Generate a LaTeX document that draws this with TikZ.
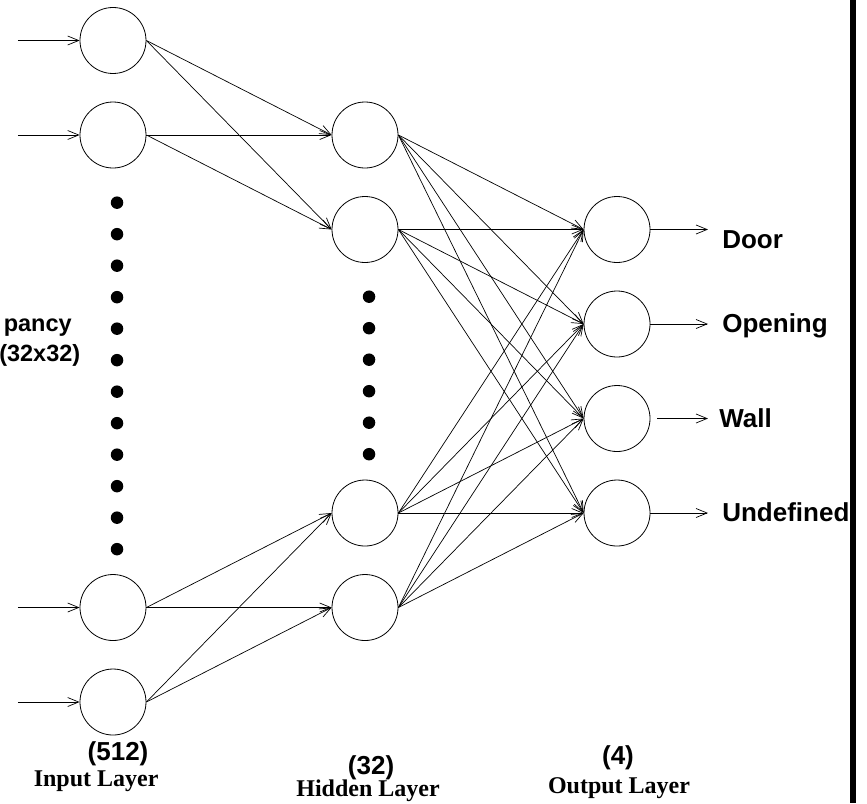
\documentclass[tikz,border=0pt]{standalone}
\usepackage{fontspec}
\setmainfont{Liberation Serif}
\setsansfont{Liberation Sans}
\usetikzlibrary{arrows.meta}
\tikzset{
  >={Straight Barb[length=11pt,width=9pt]},
  neuron/.style={draw,circle,minimum size=66pt,inner sep=0pt,line width=0.8pt},
  syn/.style={->,line width=0.7pt},
  bigdot/.style={fill,circle,minimum size=12.5pt,inner sep=0pt},
  lbl/.style={inner sep=0pt,font=\sffamily\bfseries\fontsize{26}{30}\selectfont},
  lbls/.style={lbl,font=\sffamily\bfseries\fontsize{23.5}{28}\selectfont},
  lyr/.style={inner sep=0pt,font=\bfseries\fontsize{24}{28}\selectfont},
}

\begin{document}
\begin{tikzpicture}[x=252pt,y=-94.5pt]
  \useasboundingbox (-0.4484,-0.4286) rectangle (2.992,8.0688);
  % ---- neurons ----
  \node[neuron] (i1) at (0,0) {};
  \node[neuron] (i2) at (0,1) {};
  \node[neuron] (i3) at (0,6) {};
  \node[neuron] (i4) at (0,7) {};
  \node[neuron] (h1) at (1,1) {};
  \node[neuron] (h2) at (1,2) {};
  \node[neuron] (h3) at (1,5) {};
  \node[neuron] (h4) at (1,6) {};
  \node[neuron] (o1) at (2,2) {};
  \node[neuron] (o2) at (2,3) {};
  \node[neuron] (o3) at (2,4) {};
  \node[neuron] (o4) at (2,5) {};

  % ---- elided units ----
  \foreach \k in {0,...,11}
    \node[bigdot] (di\k) at (0.016,1.716+\k/3) {};
  \foreach \k in {0,...,5}
    \node[bigdot] (dh\k) at (1.016,2.711+\k/3) {};

  % ---- inputs ----
  \coordinate (s1) at (-0.377,0);
  \coordinate (s2) at (-0.377,1);
  \coordinate (s3) at (-0.377,6);
  \coordinate (s4) at (-0.377,7);
  \foreach \i in {1,...,4}
    \draw[syn] (s\i) -- (i\i);

  % ---- input -> hidden ----
  \foreach \a/\b in {i1/h1,i1/h2,i2/h1,i2/h2,i3/h3,i3/h4,i4/h3,i4/h4}
    \draw[syn] (\a.east) -- (\b.west);

  % ---- hidden -> output ----
  \foreach \a in {h1,h2,h3,h4}
    \foreach \b in {o1,o2,o3,o4}
      \draw[syn] (\a.east) -- (\b.west);

  % ---- outputs ----
  \coordinate (t1) at (2.361,2);
  \coordinate (t2) at (2.361,3);
  \coordinate (t3) at (2.361,4);
  \coordinate (t4) at (2.361,5);
  \draw[syn] (o1.east) -- (t1);
  \draw[syn] (o2.east) -- (t2);
  \draw[syn] ([xshift=7pt]o3.east) -- (t3);
  \draw[syn] (o4.east) -- (t4);
  \node[lbl,anchor=base west] (door) at (2.417,2.196) {Door};
  \node[lbl,anchor=base west] (open) at (2.417,3.085) {Opening};
  \node[lbl,anchor=base west] (wall) at (2.405,4.09)  {Wall};
  \node[lbl,anchor=base west] (undef) at (2.417,5.085) {Undefined};

  % ---- input description ----
  \node[lbls,anchor=base east] (occ) at (-0.163,3.074) {pancy};
  \node[lbls,anchor=base east] (grid) at (-0.129,3.402) {(32x32)};

  % ---- layer captions ----
  \node[lbl,anchor=base] (ni) at (0.02,7.624)  {(512)};
  \node[lyr,anchor=base] (li) at (-0.067,7.889) {Input Layer};
  \node[lbl,anchor=base] (nh) at (1.024,7.762) {(32)};
  \node[lyr,anchor=base] (lh) at (1.012,7.995) {Hidden Layer};
  \node[lbl,anchor=base] (no) at (2.004,7.656) {(4)};
  \node[lyr,anchor=base] (lo) at (2.008,7.963) {Output Layer};

  % ---- edge bar ----
  \fill (2.925,-0.4286) rectangle (2.948,8.0688);
\end{tikzpicture}
\end{document}
